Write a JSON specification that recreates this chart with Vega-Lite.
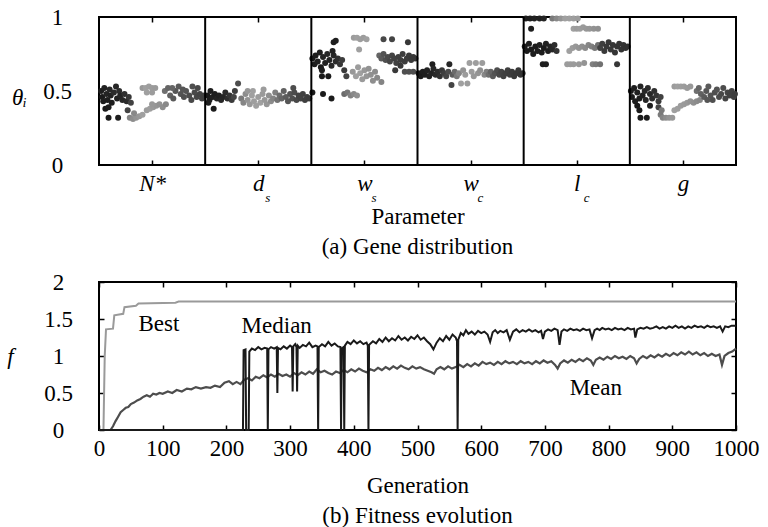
{
"$schema": "https://vega.github.io/schema/vega-lite/v6.json",
"background": "white",
"padding": {"left": 5, "top": 5, "right": 5, "bottom": 5},
"spacing": 10,
"config": {
 "font": "Liberation Serif",
 "view": {"stroke": "black", "strokeWidth": 2},
 "axis": {"domain": false, "grid": false, "labelFlush": false, "labelOverlap": false, "labelFont": "Liberation Serif", "labelFontSize": 23, "labelColor": "black", "titleFont": "Liberation Serif", "titleFontSize": 23, "titleFontWeight": "normal", "titleColor": "black", "tickColor": "black", "tickWidth": 1.5},
 "title": {"font": "Liberation Serif", "fontSize": 23, "fontWeight": "normal", "color": "black"}
},
"datasets": {
 "genes": [
  {"x":0.02,"y":0.50,"g":30},{"x":0.03,"y":0.46,"g":20},{"x":0.05,"y":0.52,"g":40},{"x":0.04,"y":0.43,"g":30},{"x":0.07,"y":0.48,"g":50},{"x":0.08,"y":0.44,"g":30},{"x":0.10,"y":0.51,"g":60},{"x":0.11,"y":0.47,"g":40},{"x":0.12,"y":0.42,"g":30},{"x":0.14,"y":0.49,"g":70},{"x":0.16,"y":0.53,"g":60},{"x":0.17,"y":0.45,"g":40},{"x":0.19,"y":0.50,"g":80},{"x":0.20,"y":0.47,"g":50},{"x":0.22,"y":0.44,"g":60},{"x":0.24,"y":0.48,"g":90},{"x":0.26,"y":0.43,"g":70},{"x":0.28,"y":0.46,"g":110},{"x":0.30,"y":0.42,"g":140},{"x":0.06,"y":0.38,"g":20},{"x":0.09,"y":0.39,"g":30},{"x":0.09,"y":0.32,"g":20},{"x":0.18,"y":0.32,"g":30},{"x":0.27,"y":0.37,"g":150},
  {"x":0.29,"y":0.32,"g":330},{"x":0.32,"y":0.31,"g":350},{"x":0.35,"y":0.32,"g":370},{"x":0.38,"y":0.33,"g":380},{"x":0.33,"y":0.35,"g":340},{"x":0.41,"y":0.34,"g":400},{"x":0.45,"y":0.37,"g":420},{"x":0.48,"y":0.38,"g":410},{"x":0.51,"y":0.39,"g":430},{"x":0.54,"y":0.40,"g":450},{"x":0.57,"y":0.41,"g":470},{"x":0.60,"y":0.39,"g":490},{"x":0.63,"y":0.41,"g":520},{"x":0.50,"y":0.41,"g":440},
  {"x":0.41,"y":0.52,"g":380},{"x":0.44,"y":0.52,"g":400},{"x":0.47,"y":0.53,"g":410},{"x":0.50,"y":0.52,"g":420},{"x":0.53,"y":0.52,"g":430},{"x":0.45,"y":0.49,"g":400},{"x":0.50,"y":0.49,"g":420},
  {"x":0.62,"y":0.50,"g":650},{"x":0.65,"y":0.52,"g":700},{"x":0.67,"y":0.47,"g":720},{"x":0.70,"y":0.45,"g":760},{"x":0.72,"y":0.50,"g":780},{"x":0.75,"y":0.53,"g":760},{"x":0.77,"y":0.48,"g":800},{"x":0.80,"y":0.46,"g":820},{"x":0.82,"y":0.50,"g":800},{"x":0.85,"y":0.47,"g":840},{"x":0.87,"y":0.44,"g":860},{"x":0.88,"y":0.53,"g":820},{"x":0.90,"y":0.49,"g":850},{"x":0.92,"y":0.46,"g":870},{"x":0.95,"y":0.48,"g":880},{"x":0.97,"y":0.45,"g":900},{"x":0.99,"y":0.47,"g":900},{"x":0.69,"y":0.52,"g":700},{"x":0.79,"y":0.51,"g":790},{"x":0.93,"y":0.52,"g":860},
  {"x":1.02,"y":0.47,"g":20},{"x":1.04,"y":0.44,"g":30},{"x":1.05,"y":0.50,"g":30},{"x":1.07,"y":0.46,"g":40},{"x":1.09,"y":0.48,"g":30},{"x":1.11,"y":0.45,"g":50},{"x":1.13,"y":0.47,"g":40},{"x":1.15,"y":0.44,"g":60},{"x":1.17,"y":0.46,"g":50},{"x":1.19,"y":0.49,"g":70},{"x":1.21,"y":0.45,"g":80},{"x":1.23,"y":0.47,"g":100},{"x":1.25,"y":0.44,"g":120},{"x":1.27,"y":0.46,"g":150},{"x":1.28,"y":0.50,"g":130},{"x":1.08,"y":0.38,"g":20},{"x":1.03,"y":0.42,"g":30},{"x":1.31,"y":0.55,"g":180},
  {"x":1.34,"y":0.45,"g":300},{"x":1.36,"y":0.42,"g":330},{"x":1.38,"y":0.48,"g":350},{"x":1.40,"y":0.44,"g":370},{"x":1.42,"y":0.41,"g":380},{"x":1.44,"y":0.47,"g":400},{"x":1.46,"y":0.43,"g":410},{"x":1.48,"y":0.40,"g":400},{"x":1.50,"y":0.46,"g":420},{"x":1.52,"y":0.42,"g":400},{"x":1.54,"y":0.48,"g":430},{"x":1.56,"y":0.44,"g":440},{"x":1.58,"y":0.41,"g":450},{"x":1.60,"y":0.47,"g":480},{"x":1.62,"y":0.43,"g":500},{"x":1.64,"y":0.45,"g":540},{"x":1.66,"y":0.49,"g":560},{"x":1.45,"y":0.50,"g":400},{"x":1.55,"y":0.51,"g":420},{"x":1.40,"y":0.50,"g":380},
  {"x":1.68,"y":0.44,"g":620},{"x":1.70,"y":0.47,"g":660},{"x":1.72,"y":0.45,"g":700},{"x":1.74,"y":0.50,"g":720},{"x":1.76,"y":0.46,"g":750},{"x":1.78,"y":0.43,"g":780},{"x":1.80,"y":0.48,"g":800},{"x":1.82,"y":0.45,"g":820},{"x":1.84,"y":0.49,"g":840},{"x":1.86,"y":0.44,"g":860},{"x":1.88,"y":0.47,"g":880},{"x":1.90,"y":0.45,"g":890},{"x":1.92,"y":0.48,"g":900},{"x":1.94,"y":0.44,"g":910},{"x":1.96,"y":0.46,"g":920},{"x":1.98,"y":0.45,"g":930},{"x":1.83,"y":0.52,"g":830},
  {"x":2.01,"y":0.72,"g":20},{"x":2.03,"y":0.68,"g":30},{"x":2.04,"y":0.74,"g":20},{"x":2.06,"y":0.70,"g":40},{"x":2.08,"y":0.76,"g":30},{"x":2.09,"y":0.66,"g":20},{"x":2.11,"y":0.73,"g":50},{"x":2.13,"y":0.69,"g":40},{"x":2.15,"y":0.75,"g":60},{"x":2.17,"y":0.71,"g":50},{"x":2.19,"y":0.67,"g":70},{"x":2.21,"y":0.74,"g":60},{"x":2.23,"y":0.70,"g":80},{"x":2.25,"y":0.72,"g":90},{"x":2.27,"y":0.68,"g":110},{"x":2.29,"y":0.71,"g":130},{"x":2.21,"y":0.83,"g":30},{"x":2.23,"y":0.84,"g":30},{"x":2.20,"y":0.77,"g":40},{"x":2.10,"y":0.60,"g":20},{"x":2.16,"y":0.60,"g":20},{"x":2.10,"y":0.64,"g":30},{"x":2.01,"y":0.49,"g":20},{"x":2.11,"y":0.48,"g":20},{"x":2.19,"y":0.45,"g":20},{"x":2.31,"y":0.64,"g":120},{"x":2.33,"y":0.60,"g":150},
  {"x":2.40,"y":0.86,"g":390},{"x":2.43,"y":0.86,"g":400},{"x":2.46,"y":0.85,"g":410},{"x":2.49,"y":0.86,"g":420},{"x":2.52,"y":0.85,"g":400},{"x":2.45,"y":0.78,"g":400},{"x":2.39,"y":0.63,"g":380},{"x":2.42,"y":0.60,"g":400},{"x":2.44,"y":0.66,"g":420},{"x":2.46,"y":0.62,"g":400},{"x":2.48,"y":0.58,"g":430},{"x":2.50,"y":0.64,"g":440},{"x":2.52,"y":0.60,"g":450},{"x":2.54,"y":0.65,"g":470},{"x":2.56,"y":0.61,"g":480},{"x":2.58,"y":0.57,"g":490},{"x":2.60,"y":0.63,"g":500},{"x":2.62,"y":0.59,"g":520},{"x":2.66,"y":0.56,"g":540},{"x":2.31,"y":0.48,"g":260},{"x":2.34,"y":0.49,"g":290},{"x":2.37,"y":0.47,"g":320},{"x":2.40,"y":0.48,"g":340},{"x":2.43,"y":0.47,"g":360},
  {"x":2.64,"y":0.74,"g":700},{"x":2.66,"y":0.72,"g":760},{"x":2.68,"y":0.75,"g":800},{"x":2.70,"y":0.71,"g":820},{"x":2.72,"y":0.73,"g":850},{"x":2.74,"y":0.70,"g":870},{"x":2.76,"y":0.74,"g":880},{"x":2.78,"y":0.72,"g":900},{"x":2.80,"y":0.69,"g":900},{"x":2.82,"y":0.73,"g":910},{"x":2.84,"y":0.71,"g":920},{"x":2.86,"y":0.75,"g":920},{"x":2.88,"y":0.70,"g":930},{"x":2.90,"y":0.72,"g":930},{"x":2.92,"y":0.74,"g":940},{"x":2.94,"y":0.71,"g":940},{"x":2.96,"y":0.73,"g":950},{"x":2.98,"y":0.72,"g":950},{"x":2.68,"y":0.85,"g":860},{"x":2.76,"y":0.85,"g":880},{"x":2.91,"y":0.83,"g":960},{"x":2.79,"y":0.64,"g":950},{"x":2.88,"y":0.63,"g":820},{"x":2.92,"y":0.63,"g":820},{"x":2.96,"y":0.63,"g":820},{"x":2.84,"y":0.67,"g":950},
  {"x":3.01,"y":0.62,"g":20},{"x":3.03,"y":0.60,"g":20},{"x":3.05,"y":0.63,"g":30},{"x":3.07,"y":0.61,"g":30},{"x":3.09,"y":0.64,"g":40},{"x":3.11,"y":0.60,"g":40},{"x":3.13,"y":0.62,"g":50},{"x":3.14,"y":0.68,"g":30},{"x":3.15,"y":0.65,"g":60},{"x":3.17,"y":0.61,"g":70},{"x":3.19,"y":0.63,"g":80},{"x":3.21,"y":0.60,"g":90},{"x":3.23,"y":0.64,"g":110},{"x":3.25,"y":0.62,"g":130},{"x":3.27,"y":0.60,"g":150},{"x":3.29,"y":0.63,"g":170},{"x":3.30,"y":0.68,"g":60},
  {"x":3.32,"y":0.54,"g":150},{"x":3.33,"y":0.61,"g":220},{"x":3.35,"y":0.63,"g":260},{"x":3.37,"y":0.60,"g":300},{"x":3.39,"y":0.62,"g":330},{"x":3.41,"y":0.55,"g":400},{"x":3.43,"y":0.64,"g":370},{"x":3.45,"y":0.61,"g":390},{"x":3.47,"y":0.55,"g":420},{"x":3.49,"y":0.69,"g":400},{"x":3.51,"y":0.63,"g":420},{"x":3.53,"y":0.60,"g":440},{"x":3.55,"y":0.69,"g":410},{"x":3.57,"y":0.62,"g":460},{"x":3.59,"y":0.64,"g":480},{"x":3.61,"y":0.69,"g":420},{"x":3.63,"y":0.61,"g":520},{"x":3.65,"y":0.63,"g":560},
  {"x":3.67,"y":0.61,"g":640},{"x":3.69,"y":0.63,"g":700},{"x":3.71,"y":0.60,"g":760},{"x":3.73,"y":0.62,"g":800},{"x":3.75,"y":0.64,"g":830},{"x":3.77,"y":0.61,"g":860},{"x":3.79,"y":0.63,"g":880},{"x":3.81,"y":0.60,"g":900},{"x":3.83,"y":0.62,"g":910},{"x":3.85,"y":0.64,"g":920},{"x":3.87,"y":0.61,"g":930},{"x":3.89,"y":0.63,"g":940},{"x":3.91,"y":0.60,"g":950},{"x":3.93,"y":0.62,"g":960},{"x":3.95,"y":0.64,"g":960},{"x":3.97,"y":0.61,"g":970},{"x":3.99,"y":0.62,"g":980},
  {"x":4.02,"y":0.99,"g":30},{"x":4.06,"y":0.99,"g":30},{"x":4.10,"y":0.99,"g":40},{"x":4.15,"y":0.99,"g":40},{"x":4.19,"y":0.99,"g":50},{"x":4.27,"y":0.99,"g":300},{"x":4.31,"y":0.99,"g":340},{"x":4.35,"y":0.99,"g":370},{"x":4.39,"y":0.99,"g":400},{"x":4.43,"y":0.99,"g":400},{"x":4.47,"y":0.99,"g":410},{"x":4.51,"y":0.99,"g":420},
  {"x":4.07,"y":0.92,"g":30},{"x":4.47,"y":0.92,"g":400},{"x":4.50,"y":0.92,"g":420},{"x":4.53,"y":0.92,"g":410},{"x":4.56,"y":0.93,"g":430},{"x":4.59,"y":0.92,"g":440},{"x":4.62,"y":0.92,"g":450},{"x":4.66,"y":0.92,"g":470},{"x":4.70,"y":0.92,"g":480},
  {"x":4.01,"y":0.80,"g":20},{"x":4.03,"y":0.77,"g":20},{"x":4.05,"y":0.82,"g":30},{"x":4.07,"y":0.78,"g":20},{"x":4.09,"y":0.75,"g":30},{"x":4.11,"y":0.80,"g":20},{"x":4.13,"y":0.77,"g":30},{"x":4.15,"y":0.81,"g":40},{"x":4.17,"y":0.76,"g":30},{"x":4.19,"y":0.79,"g":20},{"x":4.21,"y":0.82,"g":40},{"x":4.23,"y":0.77,"g":30},{"x":4.25,"y":0.80,"g":50},{"x":4.27,"y":0.78,"g":60},{"x":4.29,"y":0.81,"g":80},{"x":4.31,"y":0.77,"g":100},
  {"x":4.43,"y":0.77,"g":400},{"x":4.46,"y":0.79,"g":420},{"x":4.49,"y":0.80,"g":440},{"x":4.52,"y":0.79,"g":460},{"x":4.55,"y":0.80,"g":480},{"x":4.58,"y":0.79,"g":500},{"x":4.61,"y":0.81,"g":530},{"x":4.64,"y":0.80,"g":560},{"x":4.67,"y":0.79,"g":600},{"x":4.70,"y":0.81,"g":650},
  {"x":4.72,"y":0.79,"g":900},{"x":4.74,"y":0.82,"g":920},{"x":4.76,"y":0.77,"g":940},{"x":4.78,"y":0.80,"g":950},{"x":4.80,"y":0.83,"g":960},{"x":4.82,"y":0.78,"g":960},{"x":4.84,"y":0.81,"g":970},{"x":4.86,"y":0.76,"g":970},{"x":4.88,"y":0.80,"g":980},{"x":4.90,"y":0.82,"g":980},{"x":4.92,"y":0.78,"g":990},{"x":4.94,"y":0.81,"g":990},{"x":4.96,"y":0.79,"g":1000},{"x":4.98,"y":0.80,"g":1000},
  {"x":4.18,"y":0.68,"g":30},{"x":4.21,"y":0.68,"g":30},{"x":4.41,"y":0.68,"g":420},{"x":4.44,"y":0.68,"g":420},{"x":4.47,"y":0.68,"g":430},{"x":4.52,"y":0.68,"g":440},{"x":4.57,"y":0.69,"g":460},{"x":4.65,"y":0.68,"g":560},{"x":4.68,"y":0.68,"g":600},{"x":4.72,"y":0.68,"g":640},{"x":4.88,"y":0.68,"g":960},
  {"x":5.01,"y":0.50,"g":20},{"x":5.02,"y":0.46,"g":20},{"x":5.04,"y":0.52,"g":30},{"x":5.05,"y":0.43,"g":30},{"x":5.07,"y":0.49,"g":40},{"x":5.09,"y":0.45,"g":30},{"x":5.10,"y":0.53,"g":50},{"x":5.12,"y":0.47,"g":40},{"x":5.14,"y":0.50,"g":60},{"x":5.15,"y":0.44,"g":50},{"x":5.17,"y":0.52,"g":70},{"x":5.19,"y":0.48,"g":60},{"x":5.21,"y":0.45,"g":80},{"x":5.23,"y":0.50,"g":90},{"x":5.25,"y":0.47,"g":110},{"x":5.27,"y":0.43,"g":120},{"x":5.29,"y":0.46,"g":140},{"x":5.07,"y":0.40,"g":20},{"x":5.09,"y":0.37,"g":20},{"x":5.10,"y":0.32,"g":20},{"x":5.16,"y":0.32,"g":20},{"x":5.19,"y":0.40,"g":30},{"x":5.27,"y":0.39,"g":150},
  {"x":5.29,"y":0.34,"g":300},{"x":5.31,"y":0.32,"g":330},{"x":5.34,"y":0.32,"g":350},{"x":5.37,"y":0.32,"g":370},{"x":5.40,"y":0.32,"g":380},{"x":5.30,"y":0.37,"g":300},{"x":5.42,"y":0.37,"g":400},{"x":5.45,"y":0.38,"g":410},{"x":5.48,"y":0.40,"g":420},{"x":5.51,"y":0.41,"g":430},{"x":5.54,"y":0.42,"g":440},{"x":5.57,"y":0.43,"g":460},{"x":5.60,"y":0.42,"g":480},{"x":5.63,"y":0.43,"g":500},{"x":5.66,"y":0.44,"g":520},
  {"x":5.42,"y":0.53,"g":390},{"x":5.45,"y":0.53,"g":400},{"x":5.48,"y":0.53,"g":410},{"x":5.51,"y":0.53,"g":420},{"x":5.54,"y":0.52,"g":430},{"x":5.57,"y":0.53,"g":440},
  {"x":5.63,"y":0.50,"g":650},{"x":5.65,"y":0.52,"g":700},{"x":5.67,"y":0.48,"g":720},{"x":5.70,"y":0.46,"g":760},{"x":5.72,"y":0.50,"g":780},{"x":5.74,"y":0.53,"g":760},{"x":5.76,"y":0.47,"g":800},{"x":5.78,"y":0.44,"g":820},{"x":5.80,"y":0.49,"g":820},{"x":5.82,"y":0.51,"g":800},{"x":5.84,"y":0.46,"g":850},{"x":5.86,"y":0.48,"g":860},{"x":5.88,"y":0.52,"g":840},{"x":5.90,"y":0.45,"g":880},{"x":5.92,"y":0.49,"g":880},{"x":5.94,"y":0.47,"g":900},{"x":5.96,"y":0.50,"g":900},{"x":5.98,"y":0.46,"g":910},{"x":5.99,"y":0.48,"g":920},{"x":5.73,"y":0.44,"g":780}
 ],
 "best": [
  {"g":0,"f":0},{"g":7,"f":0},{"g":9,"f":1.0},{"g":11,"f":1.36},{"g":22,"f":1.37},{"g":24,"f":1.55},{"g":38,"f":1.57},{"g":40,"f":1.66},{"g":58,"f":1.68},{"g":62,"f":1.71},{"g":120,"f":1.72},{"g":125,"f":1.735},{"g":1000,"f":1.735}
 ],
 "mean": [
  {"g":0,"f":0},{"g":18,"f":0},{"g":22,"f":0.05},{"g":26,"f":0.12},{"g":30,"f":0.18},{"g":34,"f":0.24},{"g":38,"f":0.27},{"g":42,"f":0.3},{"g":46,"f":0.31},{"g":50,"f":0.35},{"g":55,"f":0.37},{"g":60,"f":0.4},{"g":65,"f":0.42},{"g":70,"f":0.45},{"g":75,"f":0.47},{"g":80,"f":0.45},{"g":85,"f":0.49},{"g":90,"f":0.48},{"g":95,"f":0.5},{"g":100,"f":0.49},{"g":108,"f":0.52},{"g":115,"f":0.5},{"g":122,"f":0.54},{"g":130,"f":0.52},{"g":138,"f":0.56},{"g":145,"f":0.55},{"g":152,"f":0.58},{"g":160,"f":0.56},{"g":168,"f":0.58},{"g":175,"f":0.57},{"g":182,"f":0.6},{"g":190,"f":0.58},{"g":197,"f":0.64},{"g":204,"f":0.66},{"g":210,"f":0.62},{"g":216,"f":0.65},{"g":222,"f":0.62},{"g":228,"f":0.68},{"g":234,"f":0.7},{"g":240,"f":0.67},{"g":246,"f":0.72},{"g":252,"f":0.7},{"g":258,"f":0.74},{"g":264,"f":0.71},{"g":270,"f":0.75},{"g":276,"f":0.72},{"g":282,"f":0.76},{"g":288,"f":0.73},{"g":294,"f":0.75},{"g":300,"f":0.72},{"g":306,"f":0.77},{"g":312,"f":0.74},{"g":318,"f":0.78},{"g":324,"f":0.75},{"g":330,"f":0.79},{"g":336,"f":0.76},{"g":342,"f":0.82},{"g":348,"f":0.78},{"g":354,"f":0.8},{"g":360,"f":0.77},{"g":366,"f":0.75},{"g":372,"f":0.79},{"g":378,"f":0.77},{"g":384,"f":0.81},{"g":390,"f":0.78},{"g":396,"f":0.82},{"g":402,"f":0.79},{"g":408,"f":0.83},{"g":414,"f":0.8},{"g":420,"f":0.78},{"g":426,"f":0.82},{"g":432,"f":0.8},{"g":438,"f":0.84},{"g":444,"f":0.81},{"g":450,"f":0.85},{"g":456,"f":0.82},{"g":462,"f":0.86},{"g":468,"f":0.83},{"g":474,"f":0.87},{"g":480,"f":0.84},{"g":486,"f":0.82},{"g":492,"f":0.86},{"g":498,"f":0.83},{"g":504,"f":0.85},{"g":510,"f":0.82},{"g":516,"f":0.8},{"g":522,"f":0.78},{"g":526,"f":0.76},{"g":530,"f":0.82},{"g":536,"f":0.85},{"g":542,"f":0.82},{"g":548,"f":0.86},{"g":554,"f":0.83},{"g":560,"f":0.85},{"g":566,"f":0.88},{"g":572,"f":0.85},{"g":578,"f":0.89},{"g":584,"f":0.86},{"g":590,"f":0.9},{"g":596,"f":0.87},{"g":602,"f":0.92},{"g":608,"f":0.89},{"g":614,"f":0.91},{"g":620,"f":0.88},{"g":626,"f":0.92},{"g":632,"f":0.89},{"g":638,"f":0.93},{"g":644,"f":0.9},{"g":650,"f":0.92},{"g":656,"f":0.89},{"g":662,"f":0.93},{"g":668,"f":0.9},{"g":674,"f":0.92},{"g":680,"f":0.89},{"g":686,"f":0.93},{"g":692,"f":0.9},{"g":698,"f":0.94},{"g":704,"f":0.91},{"g":710,"f":0.93},{"g":716,"f":0.88},{"g":720,"f":0.83},{"g":724,"f":0.9},{"g":730,"f":0.94},{"g":736,"f":0.91},{"g":742,"f":0.95},{"g":748,"f":0.92},{"g":754,"f":0.96},{"g":760,"f":0.93},{"g":766,"f":0.97},{"g":772,"f":0.94},{"g":776,"f":0.88},{"g":780,"f":0.95},{"g":786,"f":0.98},{"g":792,"f":0.95},{"g":798,"f":0.99},{"g":804,"f":0.96},{"g":810,"f":1.0},{"g":816,"f":0.97},{"g":822,"f":0.99},{"g":828,"f":0.96},{"g":834,"f":1.0},{"g":840,"f":0.97},{"g":844,"f":0.9},{"g":848,"f":0.96},{"g":854,"f":1.0},{"g":860,"f":0.97},{"g":866,"f":1.01},{"g":872,"f":0.98},{"g":878,"f":1.02},{"g":884,"f":0.99},{"g":890,"f":1.03},{"g":896,"f":1.0},{"g":902,"f":1.04},{"g":908,"f":1.01},{"g":914,"f":1.05},{"g":920,"f":1.02},{"g":926,"f":1.06},{"g":932,"f":1.02},{"g":938,"f":1.05},{"g":944,"f":1.01},{"g":950,"f":1.04},{"g":956,"f":1.0},{"g":962,"f":1.03},{"g":968,"f":1.0},{"g":974,"f":1.02},{"g":978,"f":0.88},{"g":982,"f":1.0},{"g":988,"f":1.04},{"g":994,"f":1.06},{"g":1000,"f":1.1}
 ],
 "median": [
  {"g":0,"f":0},{"g":226,"f":0},{"g":227,"f":1.08},{"g":230,"f":1.09},{"g":231,"f":0},{"g":235,"f":0},{"g":236,"f":1.06},{"g":240,"f":1.1},{"g":245,"f":1.08},{"g":250,"f":1.12},{"g":255,"f":1.09},{"g":260,"f":1.11},{"g":264,"f":1.1},{"g":265,"f":0},{"g":266,"f":1.09},{"g":270,"f":1.12},{"g":275,"f":1.1},{"g":279,"f":1.12},{"g":280,"f":0.5},{"g":281,"f":1.11},{"g":285,"f":1.09},{"g":290,"f":1.13},{"g":295,"f":1.1},{"g":300,"f":1.14},{"g":303,"f":1.12},{"g":304,"f":0.52},{"g":305,"f":1.13},{"g":308,"f":1.16},{"g":310,"f":1.12},{"g":311,"f":0.52},{"g":312,"f":1.14},{"g":315,"f":1.11},{"g":320,"f":1.15},{"g":325,"f":1.13},{"g":330,"f":1.18},{"g":335,"f":1.12},{"g":340,"f":1.14},{"g":343,"f":1.13},{"g":344,"f":0},{"g":345,"f":1.12},{"g":350,"f":1.16},{"g":355,"f":1.13},{"g":360,"f":1.19},{"g":365,"f":1.14},{"g":370,"f":1.17},{"g":375,"f":1.13},{"g":379,"f":1.12},{"g":380,"f":0},{"g":381,"f":1.1},{"g":384,"f":1.12},{"g":385,"f":0},{"g":386,"f":1.14},{"g":390,"f":1.19},{"g":395,"f":1.16},{"g":400,"f":1.21},{"g":405,"f":1.17},{"g":410,"f":1.2},{"g":415,"f":1.16},{"g":420,"f":1.18},{"g":422,"f":1.14},{"g":423,"f":0},{"g":424,"f":1.15},{"g":430,"f":1.2},{"g":435,"f":1.17},{"g":440,"f":1.23},{"g":445,"f":1.19},{"g":450,"f":1.25},{"g":455,"f":1.2},{"g":460,"f":1.24},{"g":465,"f":1.21},{"g":470,"f":1.27},{"g":475,"f":1.22},{"g":480,"f":1.25},{"g":485,"f":1.21},{"g":490,"f":1.26},{"g":495,"f":1.23},{"g":500,"f":1.28},{"g":505,"f":1.22},{"g":510,"f":1.25},{"g":515,"f":1.2},{"g":520,"f":1.16},{"g":525,"f":1.09},{"g":530,"f":1.18},{"g":535,"f":1.24},{"g":540,"f":1.2},{"g":545,"f":1.27},{"g":550,"f":1.22},{"g":555,"f":1.29},{"g":560,"f":1.25},{"g":562,"f":1.2},{"g":563,"f":0},{"g":564,"f":1.22},{"g":568,"f":1.31},{"g":572,"f":1.28},{"g":576,"f":1.35},{"g":580,"f":1.3},{"g":585,"f":1.33},{"g":590,"f":1.29},{"g":595,"f":1.34},{"g":600,"f":1.31},{"g":605,"f":1.33},{"g":610,"f":1.29},{"g":614,"f":1.19},{"g":618,"f":1.32},{"g":622,"f":1.35},{"g":626,"f":1.31},{"g":630,"f":1.34},{"g":635,"f":1.32},{"g":640,"f":1.35},{"g":645,"f":1.22},{"g":650,"f":1.33},{"g":655,"f":1.36},{"g":660,"f":1.32},{"g":665,"f":1.35},{"g":670,"f":1.33},{"g":675,"f":1.36},{"g":680,"f":1.33},{"g":685,"f":1.35},{"g":690,"f":1.32},{"g":694,"f":1.34},{"g":697,"f":1.23},{"g":700,"f":1.33},{"g":705,"f":1.36},{"g":710,"f":1.34},{"g":715,"f":1.37},{"g":720,"f":1.35},{"g":723,"f":1.15},{"g":726,"f":1.33},{"g":730,"f":1.36},{"g":735,"f":1.34},{"g":740,"f":1.37},{"g":745,"f":1.35},{"g":750,"f":1.36},{"g":755,"f":1.34},{"g":760,"f":1.37},{"g":765,"f":1.35},{"g":770,"f":1.36},{"g":774,"f":1.24},{"g":778,"f":1.35},{"g":782,"f":1.37},{"g":786,"f":1.35},{"g":790,"f":1.38},{"g":795,"f":1.36},{"g":800,"f":1.37},{"g":805,"f":1.35},{"g":810,"f":1.38},{"g":815,"f":1.36},{"g":820,"f":1.37},{"g":825,"f":1.35},{"g":830,"f":1.38},{"g":835,"f":1.36},{"g":840,"f":1.37},{"g":842,"f":1.25},{"g":845,"f":1.36},{"g":850,"f":1.38},{"g":855,"f":1.37},{"g":860,"f":1.39},{"g":865,"f":1.37},{"g":870,"f":1.38},{"g":875,"f":1.4},{"g":880,"f":1.37},{"g":885,"f":1.39},{"g":890,"f":1.37},{"g":895,"f":1.4},{"g":900,"f":1.38},{"g":905,"f":1.41},{"g":910,"f":1.38},{"g":915,"f":1.4},{"g":920,"f":1.37},{"g":925,"f":1.4},{"g":930,"f":1.38},{"g":935,"f":1.41},{"g":940,"f":1.39},{"g":945,"f":1.4},{"g":950,"f":1.38},{"g":955,"f":1.41},{"g":960,"f":1.39},{"g":965,"f":1.4},{"g":970,"f":1.38},{"g":975,"f":1.4},{"g":979,"f":1.33},{"g":983,"f":1.4},{"g":988,"f":1.39},{"g":993,"f":1.41},{"g":1000,"f":1.41}
 ]
},
"vconcat": [
 {
  "width": 637, "height": 148,
  "title": {"text": "(a) Gene distribution", "orient": "bottom", "offset": 8},
  "layer": [
   {"data": {"name": "genes"}, "mark": {"type": "circle", "size": 36, "opacity": 1},
    "encoding": {
     "x": {"field": "x", "type": "quantitative", "scale": {"domain": [0, 6], "nice": false, "zero": false},
      "axis": {"orient": "bottom", "values": [0.5, 1.5, 2.5, 3.5, 4.5, 5.5], "labelExpr": "['N*','d','w','w','l','g'][floor(datum.value)]", "labelFontStyle": "italic", "tickSize": -5, "labelPadding": 12, "title": "Parameter", "titlePadding": 10}},
     "y": {"field": "y", "type": "quantitative", "scale": {"domain": [0, 1], "nice": false, "zero": false},
      "axis": {"values": [0, 0.5, 1], "format": "~g", "ticks": false, "labelAlign": "center", "labelPadding": 42, "title": "θᵢ", "titleAngle": 0, "titleFontStyle": "italic", "titleX": -80, "titleY": 80, "titleBaseline": "middle", "titleAlign": "center"}},
     "color": {"field": "g", "type": "quantitative", "scale": {"domain": [0, 400, 1000], "range": ["#151515", "#a0a0a0", "#303030"]}, "legend": null}
    }},
   {"data": {"values": [{"x": 1}, {"x": 2}, {"x": 3}, {"x": 4}, {"x": 5}]}, "mark": {"type": "rule", "color": "black", "strokeWidth": 2},
    "encoding": {"x": {"field": "x", "type": "quantitative", "scale": {"domain": [0, 6], "nice": false, "zero": false},
     "axis": {"orient": "top", "values": [0.5, 1.5, 2.5, 3.5, 4.5, 5.5], "labels": false, "tickSize": -5, "title": null}}}},
   {"data": {"values": [{"x": 1.5, "s": "s"}, {"x": 2.5, "s": "s"}, {"x": 3.5, "s": "c"}, {"x": 4.5, "s": "c"}]},
    "mark": {"type": "text", "font": "Liberation Serif", "fontSize": 13, "fontStyle": "italic", "align": "left", "baseline": "middle", "dx": 7},
    "encoding": {"x": {"field": "x", "type": "quantitative", "scale": {"domain": [0, 6], "nice": false, "zero": false}, "axis": null},
     "y": {"datum": -0.22, "type": "quantitative", "scale": {"domain": [0, 1], "nice": false, "zero": false}, "axis": null},
     "text": {"field": "s"}}}
  ],
  "resolve": {"axis": {"x": "independent", "y": "independent"}}
 },
 {
  "width": 637, "height": 148,
  "title": {"text": "(b) Fitness evolution", "orient": "bottom", "offset": 8},
  "layer": [
   {"data": {"name": "best"}, "mark": {"type": "line", "color": "#9a9a9a", "strokeWidth": 2},
    "encoding": {
     "x": {"field": "g", "type": "quantitative", "scale": {"domain": [0, 1000], "nice": false},
      "axis": {"orient": "bottom", "values": [0, 100, 200, 300, 400, 500, 600, 700, 800, 900, 1000], "format": "d", "tickSize": -5, "labelPadding": 12, "title": "Generation", "titlePadding": 14}},
     "y": {"field": "f", "type": "quantitative", "scale": {"domain": [0, 2], "nice": false},
      "axis": {"orient": "left", "values": [0, 0.5, 1, 1.5, 2], "format": "~g", "tickSize": -5, "labelAlign": "center", "labelPadding": 46, "title": "f", "titleAngle": 0, "titleFontStyle": "italic", "titleX": -89, "titleY": 74, "titleBaseline": "middle", "titleAlign": "center"}}
    }},
   {"data": {"name": "mean"}, "mark": {"type": "line", "color": "#4d4d4d", "strokeWidth": 2.2},
    "encoding": {
     "x": {"field": "g", "type": "quantitative", "scale": {"domain": [0, 1000], "nice": false},
      "axis": {"orient": "top", "values": [0, 100, 200, 300, 400, 500, 600, 700, 800, 900, 1000], "labels": false, "tickSize": -5, "title": null}},
     "y": {"field": "f", "type": "quantitative", "scale": {"domain": [0, 2], "nice": false},
      "axis": {"orient": "right", "values": [0, 0.5, 1, 1.5, 2], "labels": false, "tickSize": -5, "title": null}}
    }},
   {"data": {"name": "median"}, "mark": {"type": "line", "color": "#1a1a1a", "strokeWidth": 2},
    "encoding": {
     "x": {"field": "g", "type": "quantitative", "scale": {"domain": [0, 1000], "nice": false}, "axis": null},
     "y": {"field": "f", "type": "quantitative", "scale": {"domain": [0, 2], "nice": false}, "axis": null}
    }},
   {"data": {"values": [{"g": 94, "f": 1.43, "t": "Best"}, {"g": 279, "f": 1.41, "t": "Median"}, {"g": 780, "f": 0.57, "t": "Mean"}]},
    "mark": {"type": "text", "font": "Liberation Serif", "fontSize": 23, "color": "black", "baseline": "middle"},
    "encoding": {
     "x": {"field": "g", "type": "quantitative", "scale": {"domain": [0, 1000], "nice": false}, "axis": null},
     "y": {"field": "f", "type": "quantitative", "scale": {"domain": [0, 2], "nice": false}, "axis": null},
     "text": {"field": "t"}
    }}
  ],
  "resolve": {"axis": {"x": "independent", "y": "independent"}}
 }
]
}
